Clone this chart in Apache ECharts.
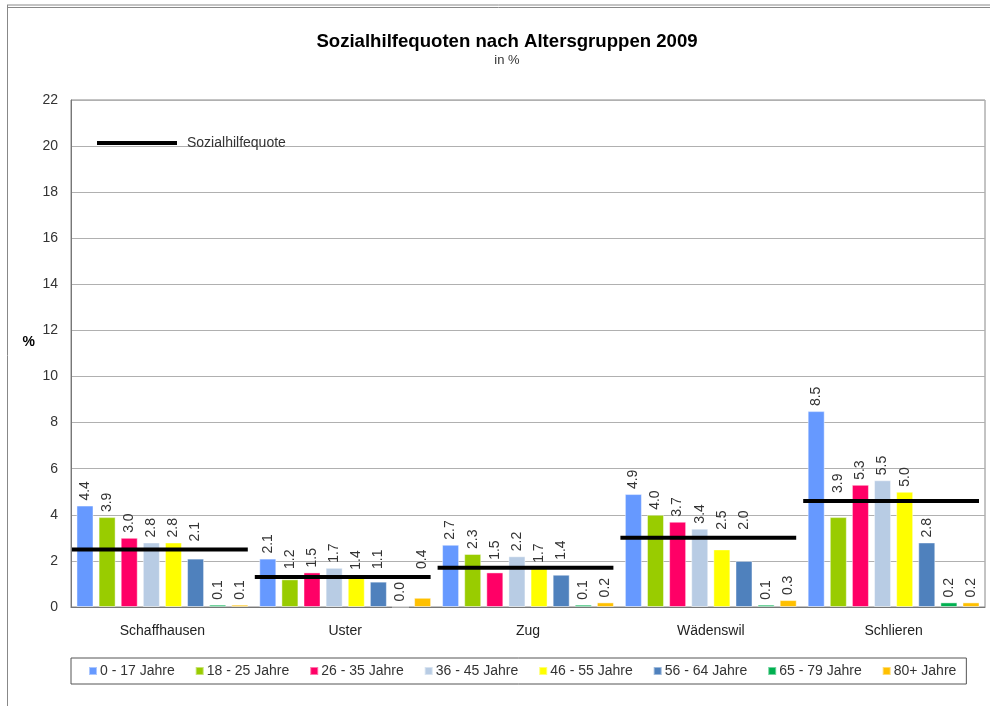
<!DOCTYPE html>
<html>
<head>
<meta charset="utf-8">
<title>Sozialhilfequoten nach Altersgruppen 2009</title>
<script src="https://cdn.jsdelivr.net/npm/echarts@6/dist/echarts.min.js"></script>
<style>
  html, body { margin: 0; padding: 0; background: #fff; }
  #chart { width: 990px; height: 706px; }
</style>
</head>
<body>
<div id="chart"></div>
<script>
  /* ---------- Daten ---------- */
  const cities = ['Schaffhausen', 'Uster', 'Zug', 'Wädenswil', 'Schlieren'];
  const ageGroups = ['0 - 17 Jahre', '18 - 25 Jahre', '26 - 35 Jahre', '36 - 45 Jahre',
                     '46 - 55 Jahre', '56 - 64 Jahre', '65 - 79 Jahre', '80+ Jahre'];
  const age0to17  = [4.4, 2.1, 2.7, 4.9, 8.5];
  const age18to25 = [3.9, 1.2, 2.3, 4.0, 3.9];
  const age26to35 = [3.0, 1.5, 1.5, 3.7, 5.3];
  const age36to45 = [2.8, 1.7, 2.2, 3.4, 5.5];
  const age46to55 = [2.8, 1.4, 1.7, 2.5, 5.0];
  const age56to64 = [2.1, 1.1, 1.4, 2.0, 2.8];
  const age65to79 = [0.1, 0.0, 0.1, 0.1, 0.2];
  const age80plus = [0.1, 0.4, 0.2, 0.3, 0.2];
  const quote     = [2.5, 1.3, 1.7, 3.0, 4.6]; // Sozialhilfequote total
  const yTicks = { min: 0, max: 22, interval: 2 };

  const ageValues = [age0to17, age18to25, age26to35, age36to45, age46to55, age56to64, age65to79, age80plus];
  const ageColors = ['#6699ff', '#99cc00', '#ff0066', '#b8cce4', '#ffff00', '#4f81bd', '#00b050', '#ffc000'];

  const FONT = "'Liberation Sans', Arial, Helvetica, sans-serif";

  let chart = null;

  // Beschriftungen, die die Quoten-Linie schneiden, über die Linie schieben
  function liftLabel(params) {
    if (!chart) { return; }
    const lineY = chart.convertToPixel({ yAxisIndex: 0 }, quote[params.dataIndex]);
    if (!isFinite(lineY)) { return; }
    const r = params.labelRect;
    if (r.y < lineY + 3 && r.y + r.height > lineY - 3) {
      return { y: lineY - 8 };
    }
  }

  /* ---------- Serien ---------- */
  const barSeries = ageGroups.map(function (name, i) {
    return {
      name: name,
      type: 'bar',
      data: ageValues[i],
      barGap: '30%',
      barCategoryGap: '6%',
      itemStyle: { color: ageColors[i], borderColor: 'rgba(255,255,255,0.45)', borderWidth: 1 },
      label: {
        show: true,
        position: 'top',
        rotate: 90,
        align: 'left',
        verticalAlign: 'middle',
        distance: 5,
        color: '#333',
        fontFamily: FONT,
        fontSize: 14,
        formatter: function (p) { return p.value.toFixed(1); }
      },
      labelLayout: liftLabel
    };
  });

  const quoteSeries = {
    name: 'Sozialhilfequote',
    type: 'custom',
    z: 5,
    data: quote.map(function (v, i) { return [i, v]; }),
    encode: { x: 0, y: 1 },
    itemStyle: { color: '#000' },
    renderItem: function (params, api) {
      const pt = api.coord([api.value(0), api.value(1)]);
      const bw = api.size([1, 0])[0];
      return {
        type: 'line',
        shape: { x1: pt[0] - bw / 2 + 1, y1: pt[1], x2: pt[0] + bw / 2 - 6, y2: pt[1] },
        style: { stroke: '#000', lineWidth: 4 }
      };
    }
  };

  /* ---------- Chart ---------- */
  chart = echarts.init(document.getElementById('chart'), null, { renderer: 'canvas' });
  chart.setOption({
    animation: false,
    backgroundColor: '#fff',
    textStyle: { fontFamily: FONT },
    title: {
      text: 'Sozialhilfequoten nach Altersgruppen 2009',
      subtext: 'in %',
      left: 502,
      top: 27,
      textAlign: 'center',
      itemGap: 3,
      textStyle: { fontFamily: FONT, fontSize: 18.6, fontWeight: 'bold', color: '#000' },
      subtextStyle: { fontFamily: FONT, fontSize: 13, color: '#333' }
    },
    legend: [{
      data: ageGroups,
      left: 71,
      top: 658,
      icon: 'rect',
      itemWidth: 8,
      itemHeight: 8,
      itemGap: 20,
      padding: [6, 10, 6, 17],
      borderColor: '#555',
      borderWidth: 1,
      textStyle: { fontFamily: FONT, fontSize: 14, color: '#333', padding: [0, 0, 0, -2] }
    }, {
      data: [{ name: 'Sozialhilfequote', icon: 'rect', itemStyle: { color: '#000' } }],
      left: 92,
      top: 131,
      itemWidth: 80,
      itemHeight: 4,
      textStyle: { fontFamily: FONT, fontSize: 14, color: '#333', padding: [0, 0, 0, 5] }
    }],
    grid: {
      left: 71, right: 5, top: 100, bottom: 99,
      show: true, borderColor: '#888', borderWidth: 1
    },
    xAxis: {
      type: 'category',
      data: cities,
      axisLine: { lineStyle: { color: '#777' } },
      axisTick: { show: false },
      axisLabel: { margin: 17, fontSize: 14, color: '#222', fontFamily: FONT }
    },
    yAxis: {
      type: 'value',
      min: yTicks.min,
      max: yTicks.max,
      interval: yTicks.interval,
      name: '%',
      nameLocation: 'middle',
      nameRotate: 0,
      nameGap: 36,
      nameTextStyle: { fontSize: 14, fontWeight: 'bold', color: '#000', verticalAlign: 'bottom', padding: [0, 0, 4, 0] },
      axisLine: { show: true, lineStyle: { color: '#777' } },
      axisTick: { show: false },
      axisLabel: { margin: 13, fontSize: 14, color: '#333', fontFamily: FONT },
      splitLine: { lineStyle: { color: '#b0b0b0' } }
    },
    graphic: [
      { type: 'line', shape: { x1: 7, y1: 5, x2: 990, y2: 5 }, style: { stroke: '#888', lineWidth: 1 } },
      { type: 'line', shape: { x1: 7, y1: 7.5, x2: 990, y2: 7.5 }, style: { stroke: '#888', lineWidth: 1 } },
      { type: 'line', shape: { x1: 7.5, y1: 5, x2: 7.5, y2: 706 }, style: { stroke: '#888', lineWidth: 1 } }
    ],
    series: barSeries.concat([quoteSeries])
  });
</script>
</body>
</html>
